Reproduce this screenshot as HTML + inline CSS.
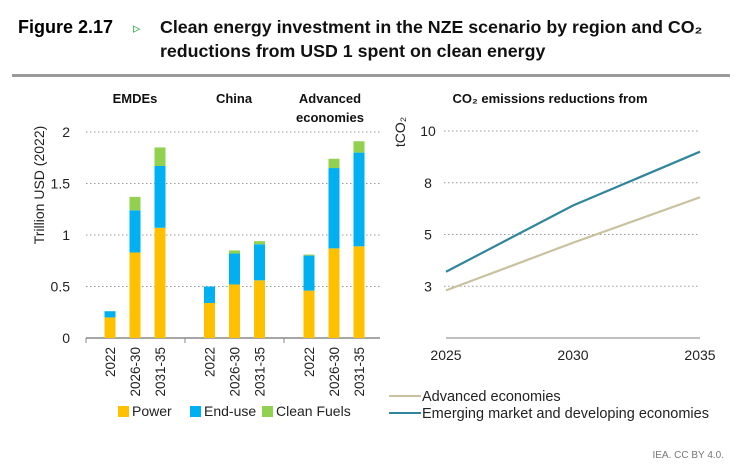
<!DOCTYPE html>
<html><head><meta charset="utf-8"><style>
body{margin:0;width:744px;height:469px;background:#fff;overflow:hidden;font-family:"Liberation Sans",sans-serif;}
svg text{font-family:"Liberation Sans",sans-serif;}
</style></head><body>
<svg id="c" width="744" height="469" xmlns="http://www.w3.org/2000/svg">
<text x="18" y="33" font-size="18" font-weight="bold" fill="#000">Figure 2.17</text>
<text x="133" y="33" font-size="15" fill="#3cb44b">▹</text>
<text x="160" y="33" font-size="17.8" font-weight="bold" fill="#111">Clean energy investment in the NZE scenario by region and CO₂</text>
<text x="160" y="57" font-size="17.8" font-weight="bold" fill="#111">reductions from USD 1 spent on clean energy</text>
<rect x="12" y="74" width="718" height="3" fill="#9a9a9a"/>
<g id="left"></g>
<g id="right"></g>
<text x="724" y="458" font-size="10" fill="#777" text-anchor="end">IEA. CC BY 4.0.</text>
</svg>
<script>
const regions=["EMDEs","China","Advanced economies"];
const periods=["2022","2026-30","2031-35"];
const power=[0.20,0.83,1.07, 0.34,0.52,0.56, 0.46,0.87,0.89];
const endUse=[0.06,0.41,0.60, 0.16,0.30,0.35, 0.34,0.78,0.91];
const cleanFuels=[0.00,0.13,0.18, 0.00,0.03,0.03, 0.01,0.09,0.11];
const yTicks=[0,0.5,1,1.5,2];
const yTickLabels=["0","0.5","1","1.5","2"];
const years=[2025,2030,2035];
const advanced=[2.3,4.6,6.8];
const emde=[3.2,6.4,9.0];
const rTicks=[2.5,5,7.5,10];
const rTickLabels=["3","5","8","10"];
const NS="http://www.w3.org/2000/svg";
function mk(p,tag,a,txt){const e=document.createElementNS(NS,tag);for(const k in a)e.setAttribute(k,a[k]);if(txt!==undefined)e.textContent=txt;p.appendChild(e);return e;}
const L=document.getElementById('left');
const y0=338,yPer=103;
const yS=v=>y0-v*yPer;
const xS=i=>110+Math.floor(i/3)*99.5+(i%3)*25;
yTicks.forEach((t,i)=>{
  if(t>0){const g=mk(L,'line',{x1:86,x2:380,y1:yS(t),y2:yS(t),stroke:'#999','stroke-dasharray':'1.5,2.5'});
  
  }
  const tl=mk(L,'text',{x:70,y:yS(t)+5,'font-size':14,'text-anchor':'end',fill:'#222'},yTickLabels[i]);
  
  
});
const yt=mk(L,'text',{x:0,y:0,'font-size':14,fill:'#222','text-anchor':'middle',transform:'translate(44,185) rotate(-90)'},'Trillion USD (2022)');


const ax=mk(L,'line',{x1:86,x2:380,y1:y0,y2:y0,stroke:'#888','stroke-width':1.5});


[86,185,284].forEach(x=>{const t=mk(L,'line',{x1:x,x2:x,y1:y0,y2:y0+5,stroke:'#888'});

});
const rHead=[[135,["EMDEs"]],[234,["China"]],[330,["Advanced","economies"]]];
rHead.forEach((h,i)=>{h[1].forEach((s,j)=>{const t=mk(L,'text',{x:h[0],y:103+j*19,'font-size':13,'font-weight':'bold','text-anchor':'middle',fill:'#111'},s);

});});
const cols=['#ffc000','#00b0f0','#92d050'];
power.forEach((p,i)=>{
  const x=xS(i)-5.5;let b=0;
  [power[i],endUse[i],cleanFuels[i]].forEach((v,k)=>{
    if(v<=0)return;
    const r=mk(L,'rect',{x:x,y:yS(b+v),width:11,height:v*yPer,fill:cols[k]});
    
    
    b+=v;});
  const t=mk(L,'text',{x:0,y:0,'font-size':13.5,fill:'#222','text-anchor':'end',transform:`translate(${xS(i)+5},${y0+9}) rotate(-90)`},periods[i%3]);
  
  
});
[['Power',118],['End-use',190],['Clean Fuels',262]].forEach((l,k)=>{
  const r=mk(L,'rect',{x:l[1],y:406,width:11,height:11,fill:cols[k]});
  
  
  const t=mk(L,'text',{x:l[1]+14,y:416,'font-size':14,fill:'#222'},l[0]);
  
  
});
const R=document.getElementById('right');
const ry0=338,rPer=20.7;
const ryS=v=>ry0-v*rPer;
const rxS=yr=>446+(yr-2025)*25.4;
rTicks.forEach((t,i)=>{
  const g=mk(R,'line',{x1:444,x2:700,y1:ryS(t),y2:ryS(t),stroke:'#999','stroke-dasharray':'1.5,2.5'});
  
  
  const tl=mk(R,'text',{x:428,y:ryS(t)+5,'font-size':14,'text-anchor':'middle',fill:'#222'},rTickLabels[i]);
  
  
});
const rt=mk(R,'text',{x:0,y:0,'font-size':14,fill:'#222','text-anchor':'middle',transform:'translate(405,132) rotate(-90)'},'tCO₂');


const rh=mk(R,'text',{x:550,y:103,'font-size':13,'font-weight':'bold','text-anchor':'middle',fill:'#111'},'CO₂ emissions reductions from');


const rax=mk(R,'line',{x1:446,x2:700,y1:ry0,y2:ry0,stroke:'#aaa','stroke-width':1.5});


years.forEach(yr=>{const t=mk(R,'text',{x:rxS(yr),y:360,'font-size':14,'text-anchor':'middle',fill:'#222'},String(yr));

});
[[advanced,'#c9c19f','series-advanced-economies'],[emde,'#31859c','series-emde']].forEach(s=>{
  const p=mk(R,'polyline',{points:years.map((yr,i)=>rxS(yr)+','+ryS(s[0][i])).join(' '),fill:'none',stroke:s[1],'stroke-width':2.2});
  
  
});
[['Advanced economies','#c9c19f',401],['Emerging market and developing economies','#31859c',418]].forEach(l=>{
  const ln=mk(R,'line',{x1:389,x2:421,y1:l[2]-5,y2:l[2]-5,stroke:l[1],'stroke-width':2});
  
  
  const t=mk(R,'text',{x:422,y:l[2],'font-size':14.5,fill:'#222'},l[0]);
  
  
});
</script>
</body></html>
